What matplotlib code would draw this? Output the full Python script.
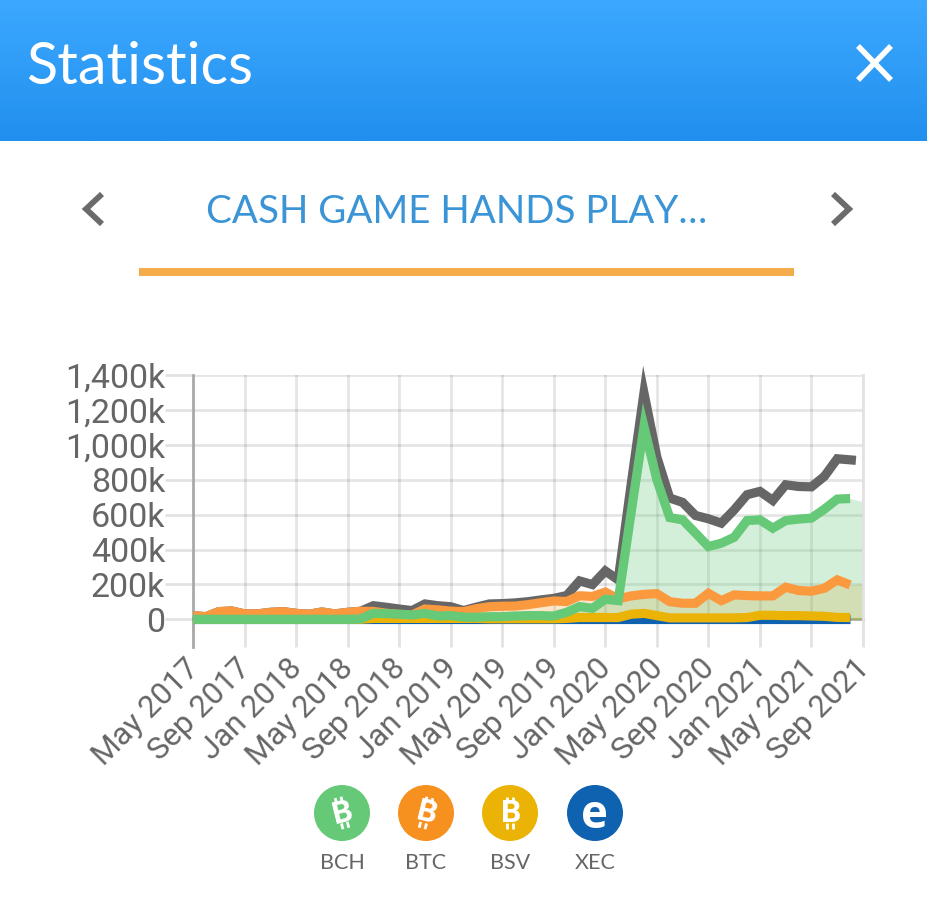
import numpy as np
import matplotlib
matplotlib.use("Agg")
import matplotlib.pyplot as plt
from matplotlib.patches import Circle, Rectangle
from matplotlib.transforms import ScaledTranslation

# ---- data (thousands of hands, monthly from May 2017) ----
total = [21,15,44,48,31,31,40,44,34,29,42,31,40,46,78,69,59,50,88,78,72,50,70,
         88,90,94,101,111,120,136,220,199,277,226,770,1297,930,695,670,595,576,551,
         627,714,733,681,771,761,759,819,920,911]
btc = [21,15,44,48,31,31,40,44,34,29,42,31,40,46,45,35,28,25,59,54,47,44,61,
       72,75,76,84,95,105,102,135,131,156,117,134,143,147,101,92,92,149,107,
       140,136,134,134,184,165,161,178,226,197]
bch = [0,0,0,0,0,0,0,0,0,0,0,0,0,2,34,33,29,25,34,19,21,12,12,
       15,15,19,21,21,19,40,73,63,115,107,610,1105,800,583,570,494,417,436,
       470,566,570,522,566,574,580,631,689,692]
bsv = [0,0,0,0,0,0,0,0,0,0,0,0,0,0,5,5,5,5,5,5,5,5,5,
       3,3,3,3,3,3,5,10,10,10,10,29,34,21,8,8,8,8,8,
       8,10,23,23,21,21,19,17,11,10]
xec = [0]*52
total_last_month = 51.45
fill_end = {"bch": 675, "btc": 205, "bsv": 12}
yticks = [0,200,400,600,800,1000,1200,1400]
ylabels = ["0","200k","400k","600k","800k","1,000k","1,200k","1,400k"]
xlabels = ["May 2017","Sep 2017","Jan 2018","May 2018","Sep 2018","Jan 2019","May 2019",
           "Sep 2019","Jan 2020","May 2020","Sep 2020","Jan 2021","May 2021","Sep 2021"]
coins = ["BCH","BTC","BSV","XEC"]

W, H = 927, 900
fig = plt.figure(figsize=(W/100, H/100), dpi=100, facecolor="white")
plt.rcParams["font.family"] = ["Roboto", "DejaVu Sans"]

# ---- chart ----
ax = fig.add_axes([193/W, 1-619.3/H, 670/W, 244.3/H])
ax.set_xlim(0, 52); ax.set_ylim(0, 1400)
for s in ("top","bottom"):
    ax.spines[s].set_visible(False)
ax.spines["right"].set_color("#e2e2e2"); ax.spines["right"].set_linewidth(2)
ax.spines["left"].set_color("#aaaaaa"); ax.spines["left"].set_linewidth(2)
ax.spines["left"].set_bounds(-160, 1400)
ax.set_axisbelow(True)
ax.grid(True, color="#000000", alpha=0.10, lw=2)
ax.set_yticks(yticks, ylabels)
ax.set_xticks(np.arange(0, 53, 4), xlabels, rotation=45, ha="right", va="center", rotation_mode="anchor")
ax.tick_params(axis="y", length=20, width=2, color="#e2e2e2", labelsize=24.5, labelcolor="#666666", pad=0)
ax.tick_params(axis="x", length=20, width=2, color="#e2e2e2", labelsize=22.5, labelcolor="#666666", pad=12)
shift = ScaledTranslation(1.0/72, 0, fig.dpi_scale_trans)
for lab in ax.get_xticklabels():
    lab.set_transform(lab.get_transform() + shift)
ax.plot([0, 52], [0, 0], color="#aaaaaa", lw=2, zorder=1.5, clip_on=False)

x = np.arange(52)
xf = np.arange(53)
ax.fill_between(xf, bsv + [fill_end["bsv"]], color="#EAB305", alpha=0.25, lw=0, zorder=1.6)
ax.fill_between(xf, btc + [fill_end["btc"]], color="#F7931A", alpha=0.22, lw=0, zorder=1.7)
ax.fill_between(xf, bch + [fill_end["bch"]], color="#65C978", alpha=0.28, lw=0, zorder=1.8)
lw = 6.6
xt = np.append(x[:-1], total_last_month)
for xs, vals, col, z in [(xt,total,"#666666",3),(x,xec,"#0F62B0",4),(x,bsv,"#EAB305",5),(x,btc,"#FB993F",6),(x,bch,"#65C978",7)]:
    ax.plot(xs, vals, color=col, lw=lw, zorder=z, clip_on=False,
            solid_joinstyle="miter", solid_capstyle="butt")

# ---- page furniture, in pixel coordinates ----
ov = fig.add_axes([0, 0, 1, 1], zorder=10)
ov.set_xlim(0, W); ov.set_ylim(H, 0); ov.axis("off"); ov.patch.set_alpha(0)
top = np.array([0x3C, 0xA8, 0xFF]) / 255
bot = np.array([0x21, 0x8F, 0xEE]) / 255
grad = np.linspace(0, 1, 141)[:, None, None] * (bot - top)[None, None, :] + top
ov.imshow(grad, extent=(0, W, 141, 0), aspect="auto", interpolation="bilinear")
ov.set_xlim(0, W); ov.set_ylim(H, 0)
ov.text(26, 67, "Statistics", family="Lato", fontsize=41.5, color="white", va="center", ha="left")
ov.plot([858, 891], [46, 80], color="white", lw=4, solid_capstyle="butt")
ov.plot([891, 858], [46, 80], color="white", lw=4, solid_capstyle="butt")
ov.text(457, 212, "CASH GAME HANDS PLAY…", family="Lato", fontsize=27.7, color="#3A94D6", va="center", ha="center")
ov.add_patch(Rectangle((139, 268), 655, 8, color="#F4AC4B", lw=0))
ov.plot([102, 86, 102], [194, 209, 224], color="#6b6b6b", lw=4.2, solid_joinstyle="miter", solid_capstyle="butt")
ov.plot([833, 849, 833], [194, 209, 224], color="#6b6b6b", lw=4.2, solid_joinstyle="miter", solid_capstyle="butt")

centers = [342, 426, 510, 595]
colors = ["#65C978", "#F6901E", "#EAB305", "#0F62B0"]
rots = [14, -14, 0, 0]      # degrees, screen rotation of the coin's B
for cx, col, r, name in zip(centers, colors, rots, coins):
    ov.add_patch(Circle((cx, 813), 28, color=col, lw=0))
    if name == "XEC":
        ov.text(cx, 816, "e", color="white", fontsize=33, fontweight="bold",
                ha="center", va="center", family="Open Sans")
    else:
        ov.text(cx + 1, 813, "B", color="white", fontsize=23, fontweight="bold", rotation=r,
                ha="center", va="center", family="Roboto", rotation_mode="anchor")
        a = np.deg2rad(r)
        for dx in (-3, 3):
            for y0, y1 in ((-16, -10), (10, 16)):
                px = [cx + dx*np.cos(a) + yy*np.sin(a) for yy in (y0, y1)]
                py = [813 - dx*np.sin(a) + yy*np.cos(a) for yy in (y0, y1)]
                ov.plot(px, py, color="white", lw=2, solid_capstyle="butt")
    ov.text(cx, 863, name, color="#666666", fontsize=15.5, ha="center", va="center", family="Lato")

fig.savefig("out.png", dpi=100)
